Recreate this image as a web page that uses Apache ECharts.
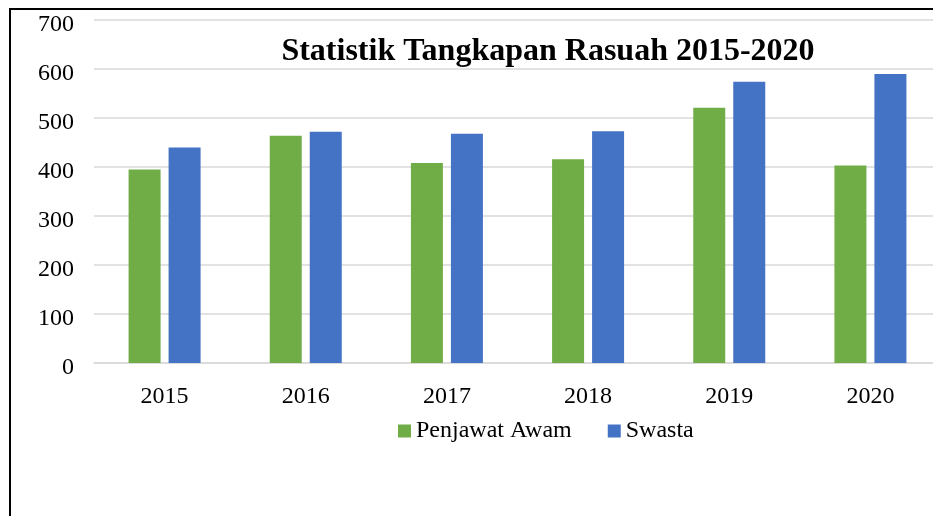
<!DOCTYPE html>
<html>
<head>
<meta charset="utf-8">
<script src="https://cdn.jsdelivr.net/npm/echarts@6/dist/echarts.min.js"></script>
<style>
html,body{margin:0;padding:0;background:#fff;overflow:hidden;width:933px;height:516px;}
#chart{width:945px;height:516px;}
</style>
</head>
<body>
<div id="chart"></div>
<script>
var categories = ['2015', '2016', '2017', '2018', '2019', '2020'];
var penjawatAwam = [395, 464, 408, 416, 521, 403];
var swasta = [440, 472, 468, 473, 574, 590];
var yTicks = [0, 100, 200, 300, 400, 500, 600, 700];

var font = '"Liberation Serif", "Times New Roman", serif';
var chart = echarts.init(document.getElementById('chart'), null, {renderer: 'canvas'});
chart.setOption({
  animation: false,
  backgroundColor: '#ffffff',
  title: {
    text: 'Statistik Tangkapan Rasuah 2015-2020',
    left: 548, top: 36, textAlign: 'center', padding: 0,
    textStyle: {fontFamily: font, fontWeight: 'bold', fontSize: 32, color: '#000'}
  },
  graphic: [
    {type: 'line', shape: {x1: 10, y1: 9, x2: 945, y2: 9}, style: {stroke: '#000', lineWidth: 2}, z: 100},
    {type: 'line', shape: {x1: 10, y1: 8, x2: 10, y2: 516}, style: {stroke: '#000', lineWidth: 2}, z: 100}
  ],
  legend: {
    data: ['Penjawat Awam', 'Swasta'],
    left: 398, top: 419, padding: 0,
    itemWidth: 13, itemHeight: 13, itemGap: 36,
    icon: 'rect',
    textStyle: {fontFamily: font, fontSize: 24, color: '#000'}
  },
  grid: {left: 94, top: 20, width: 847, height: 343, containLabel: false},
  xAxis: {
    type: 'category', data: categories,
    axisLine: {show: true, lineStyle: {color: '#d9d9d9', width: 1.5}},
    axisTick: {show: false},
    axisLabel: {fontFamily: font, fontSize: 24, color: '#000', margin: 22}
  },
  yAxis: {
    type: 'value', min: yTicks[0], max: yTicks[yTicks.length - 1], interval: 100,
    axisLine: {show: false}, axisTick: {show: false},
    axisLabel: {fontFamily: font, fontSize: 24, color: '#000', margin: 20, verticalAlign: 'top', lineHeight: 10},
    splitLine: {lineStyle: {color: '#d9d9d9', width: 1.5}}
  },
  series: [
    {name: 'Penjawat Awam', type: 'bar', data: penjawatAwam, barWidth: 32, barGap: '25%',
     itemStyle: {color: '#70ad47'}},
    {name: 'Swasta', type: 'bar', data: swasta, barWidth: 32, barGap: '25%',
     itemStyle: {color: '#4472c4'}}
  ]
});
</script>
</body>
</html>
